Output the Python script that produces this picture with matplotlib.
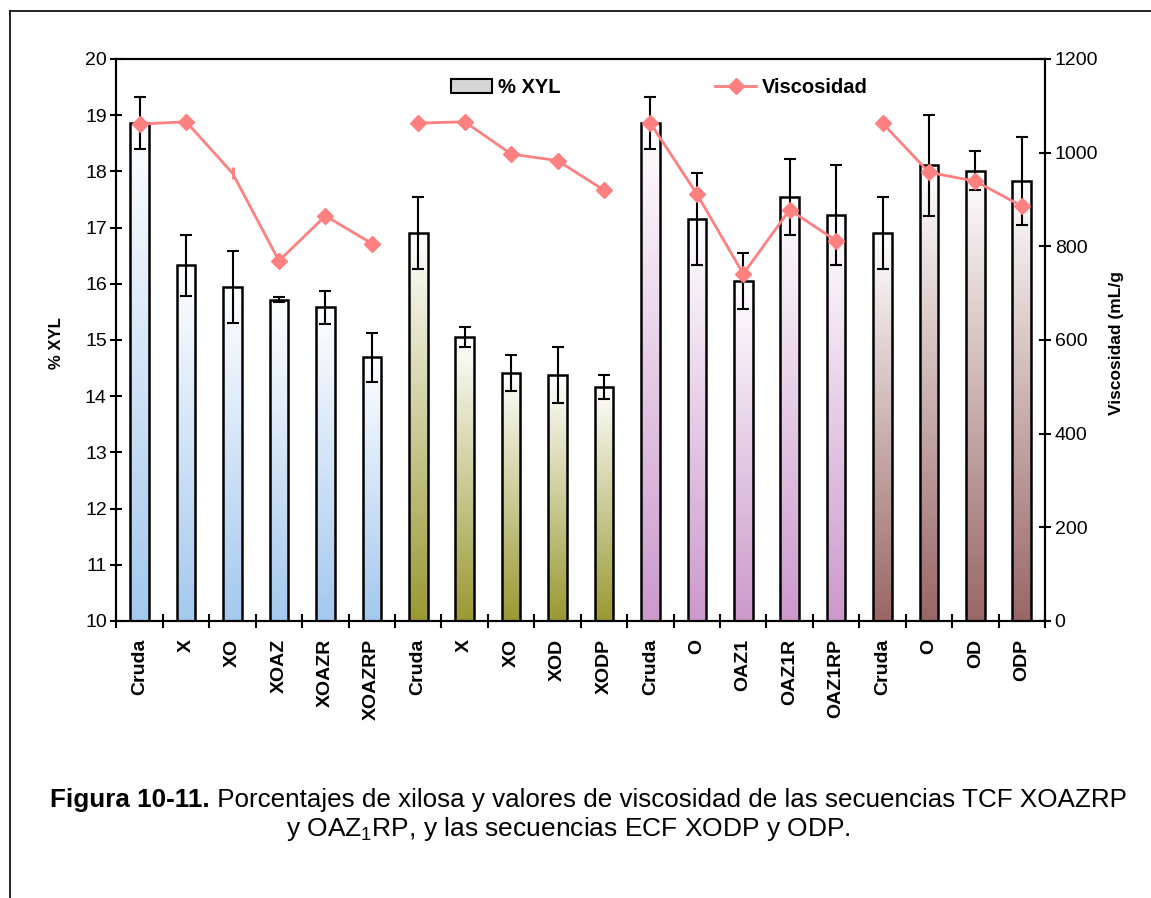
import numpy as np
import matplotlib
matplotlib.use("Agg")
import matplotlib.pyplot as plt
from matplotlib.lines import Line2D
from matplotlib.patches import Patch
from matplotlib.colors import LinearSegmentedColormap

plt.rcParams['font.family'] = ['Liberation Sans', 'DejaVu Sans']
plt.rcParams['mathtext.fontset'] = 'custom'
plt.rcParams['mathtext.rm'] = 'Liberation Sans'
plt.rcParams['mathtext.default'] = 'regular'

# Datos
etiquetas = ["Cruda", "X", "XO", "XOAZ", "XOAZR", "XOAZRP",
             "Cruda", "X", "XO", "XOD", "XODP",
             "Cruda", "O", "OAZ1", "OAZ1R", "OAZ1RP",
             "Cruda", "O", "OD", "ODP"]
xyl = [18.86, 16.33, 15.94, 15.72, 15.58, 14.69,
       16.90, 15.05, 14.41, 14.37, 14.16,
       18.86, 17.15, 16.05, 17.54, 17.22,
       16.90, 18.11, 18.01, 17.83]
xyl_err = [0.46, 0.54, 0.64, 0.05, 0.29, 0.43,
           0.64, 0.18, 0.32, 0.50, 0.21,
           0.46, 0.82, 0.49, 0.68, 0.89,
           0.64, 0.90, 0.35, 0.78]
viscosidad = [1061, 1066, 956, 769, 865, 806,
              1063, 1066, 997, 983, 920,
              1063, 912, 741, 878, 812,
              1063, 958, 939, 886]
tamanos_grupo = [6, 5, 5, 4]
colores_grupo = ["#a4c8ee", "#999933", "#cc99cc", "#996666"]
color_linea = "#ff8080"

fig = plt.figure(figsize=(11.51, 8.98), dpi=100)
ax = fig.add_axes([0.1012, 0.3085, 0.8067, 0.6258])
ax2 = ax.twinx()

x = np.arange(len(etiquetas))
ancho = 0.4
base = 10

# Barras con degradado (color abajo, blanco arriba)
grad = np.linspace(0, 1, 256).reshape(-1, 1)
inicio = 0
for n, col in zip(tamanos_grupo, colores_grupo):
    cmap = LinearSegmentedColormap.from_list("g", [col, "#ffffff"])
    for i in range(inicio, inicio + n):
        ax.imshow(grad, cmap=cmap, origin="lower", aspect="auto",
                  extent=(x[i] - ancho / 2, x[i] + ancho / 2, base, xyl[i]),
                  zorder=1, interpolation="bicubic")
    inicio += n

ax.bar(x, np.array(xyl) - base, bottom=base, width=ancho, facecolor="none",
       edgecolor="black", linewidth=1.8, zorder=2)
ax.errorbar(x, xyl, yerr=xyl_err, fmt="none", ecolor="black",
            elinewidth=1.5, capsize=4.5, capthick=1.5, zorder=3)

ax.set_xlim(-0.5, len(etiquetas) - 0.5)
ax.set_ylim(10, 20)
ax.set_yticks(np.arange(10, 21, 1))
ax.set_xticks(x)
ax.set_xticklabels(etiquetas, rotation=90, fontweight="bold", fontsize=14)
ax.set_xticks(np.arange(-0.5, len(etiquetas), 1), minor=True)
ax.tick_params(axis="x", which="major", length=0, pad=13)
ax.tick_params(axis="x", which="minor", direction="inout", length=10, width=1.5)
ax.tick_params(axis="y", direction="inout", length=8, width=1.5, labelsize=14, pad=3)

# Linea de viscosidad por secuencia
inicio = 0
for g, n in enumerate(tamanos_grupo):
    xs = x[inicio:inicio + n]
    vs = viscosidad[inicio:inicio + n]
    marcas = [k for k in range(n) if not (g == 0 and k == 2)]
    ax2.plot(xs, vs, color=color_linea, linewidth=2, marker="D", markersize=8.5,
             markeredgecolor=color_linea, markevery=marcas, zorder=4)
    if g == 0:
        ax2.plot(xs[2], vs[2], marker="|", markersize=9, markeredgewidth=2,
                 color=color_linea, zorder=4)
    inicio += n

ax2.set_ylim(0, 1200)
ax2.set_yticks(np.arange(0, 1201, 200))
ax2.tick_params(axis="y", direction="inout", length=8, width=1.5, labelsize=14, pad=3)

for a in (ax, ax2):
    for s in a.spines.values():
        s.set_linewidth(1.5)

ax.set_ylabel("% XYL", fontweight="bold", fontsize=12)
ax.yaxis.set_label_coords(-0.056, 0.495)
ax2.set_ylabel("Viscosidad (mL/g", fontweight="bold", fontsize=12.5)
ax2.yaxis.set_label_coords(1.069, 0.495)

# Leyenda
handles = [Patch(facecolor="#d6d6d6", edgecolor="black", linewidth=1.5),
           Line2D([0], [0], color=color_linea, linewidth=2, marker="D",
                  markersize=8.5, markeredgecolor=color_linea)]
fig.legend(handles, ["% XYL", "Viscosidad"], loc="center",
           bbox_to_anchor=(0.573, 0.903), ncol=2, frameon=False,
           prop={"weight": "bold", "size": 14.5}, handlelength=2.0,
           columnspacing=7.7, handletextpad=0.3)

# Pie de figura
t1 = fig.text(0, 0.108, "Figura 10-11.", fontweight="bold", fontsize=18.7,
              ha="left", va="center")
t2 = fig.text(0, 0.108, " Porcentajes de xilosa y valores de viscosidad de las secuencias TCF XOAZRP",
              fontsize=18.7, ha="left", va="center")
fig.canvas.draw()
r = fig.canvas.get_renderer()
w1 = t1.get_window_extent(r).width
w2 = t2.get_window_extent(r).width
x0 = 588.5 - (w1 + w2) / 2
t1.set_x(x0 / 1151)
t2.set_x((x0 + w1) / 1151)
t1.set_y(1 - 800 / 898)
t2.set_y(1 - 800 / 898)
fig.text(568 / 1151, 1 - 829 / 898, "y OAZ$_1$RP, y las secuencias ECF XODP y ODP.",
         fontsize=19, ha="center", va="center")

# Marco exterior
fig.add_artist(Line2D([10 / 1151, 1], [1 - 11 / 898, 1 - 11 / 898],
                      transform=fig.transFigure, color="black", linewidth=1.2))
fig.add_artist(Line2D([10 / 1151, 10 / 1151], [0, 1 - 11 / 898],
                      transform=fig.transFigure, color="black", linewidth=1.2))

fig.savefig("out.png", dpi=100)
